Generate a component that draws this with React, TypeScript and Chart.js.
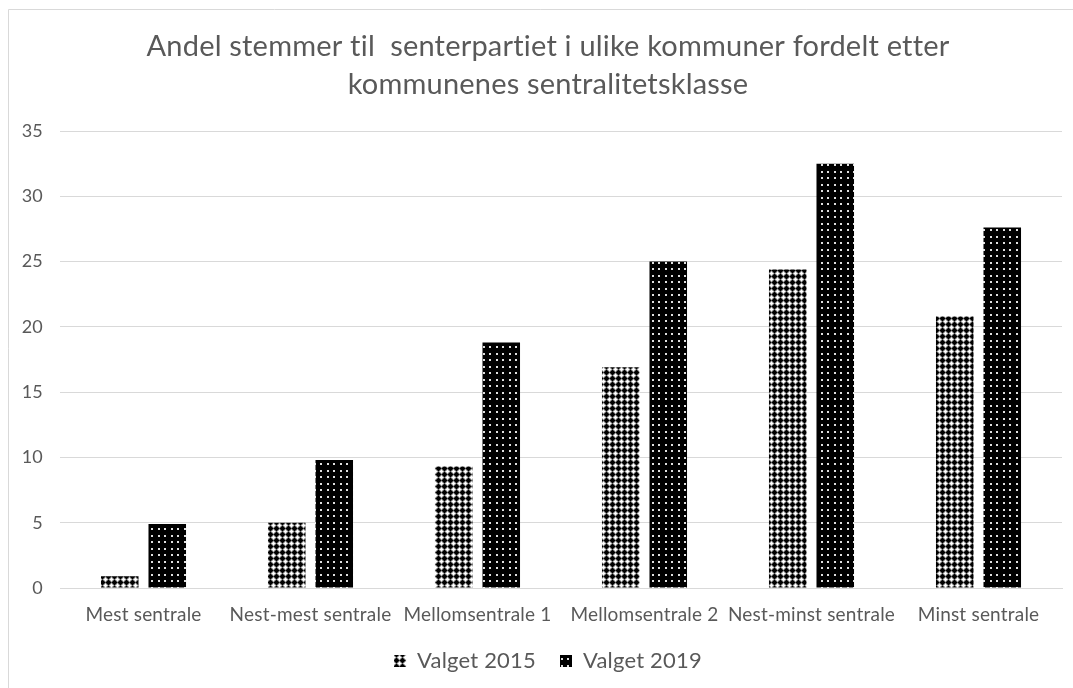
import React, { useEffect, useRef } from 'react';
import { Chart, registerables } from 'chart.js';

Chart.register(...registerables);

const TITLE_LINES = [
  'Andel stemmer til  senterpartiet i ulike kommuner fordelt etter',
  'kommunenes sentralitetsklasse',
];
const CATEGORIES = [
  'Mest sentrale',
  'Nest-mest sentrale',
  'Mellomsentrale 1',
  'Mellomsentrale 2',
  'Nest-minst sentrale',
  'Minst sentrale',
];
const SERIES_NAMES = ['Valget 2015', 'Valget 2019'];
const VALUES_2015 = [0.9, 5.0, 9.3, 16.9, 24.4, 20.8];
const VALUES_2019 = [4.9, 9.8, 18.8, 25.0, 32.5, 27.6];
const Y_MIN = 0;
const Y_MAX = 35;
const Y_STEP = 5;

const TEXT_COLOR = '#595959';
const GRID_COLOR = '#d9d9d9';
const FONT = 'Lato';

function makePattern2015(ctx: CanvasRenderingContext2D): CanvasPattern | string {
  const size = 6;
  const c = document.createElement('canvas');
  c.width = size;
  c.height = size;
  const g = c.getContext('2d');
  if (!g) return '#777';
  for (let y = 0; y < size; y++) {
    for (let x = 0; x < size; x++) {
      const d = Math.min(x, size - x) + Math.min(y, size - y);
      let col = '#ffffff';
      if (d <= 2) col = '#000000';
      else if (d === 3) col = '#555555';
      else if (d === 4) col = '#bbbbbb';
      g.fillStyle = col;
      g.fillRect(x, y, 1, 1);
    }
  }
  return ctx.createPattern(c, 'repeat') || '#777';
}

function makePattern2019(ctx: CanvasRenderingContext2D): CanvasPattern | string {
  const size = 13;
  const c = document.createElement('canvas');
  c.width = size;
  c.height = size;
  const g = c.getContext('2d');
  if (!g) return '#000';
  g.fillStyle = '#000000';
  g.fillRect(0, 0, size, size);
  g.fillStyle = '#e0e0e0';
  const pts = [
    [2, 2],
    [8, 2],
    [2, 8],
    [8, 8],
  ];
  for (const [px, py] of pts) g.fillRect(px, py, 2, 2);
  return ctx.createPattern(c, 'repeat') || '#000';
}

const CENTER_SHIFT = 34;

const framePlugin = {
  id: 'frame',
  beforeUpdate(chart: any) {
    (chart.ctx as any).letterSpacing = '0.2px';
  },
  afterLayout(chart: any) {
    if (chart.titleBlock) chart.titleBlock.left += CENTER_SHIFT;
    if (chart.legend) chart.legend.left += CENTER_SHIFT;
  },
  beforeDraw(chart: any) {
    const { ctx, width, height } = chart;
    (ctx as any).letterSpacing = '0.2px';
    ctx.save();
    ctx.fillStyle = '#ffffff';
    ctx.fillRect(0, 0, width, height);
    ctx.strokeStyle = GRID_COLOR;
    ctx.lineWidth = 1;
    ctx.beginPath();
    ctx.moveTo(8.5, height);
    ctx.lineTo(8.5, 9.5);
    ctx.lineTo(width, 9.5);
    ctx.stroke();
    ctx.restore();
  },
};

export default function App() {
  const ref = useRef<HTMLCanvasElement | null>(null);

  useEffect(() => {
    document.body.style.margin = '0';
    document.body.style.overflow = 'hidden';
    const canvas = ref.current;
    if (!canvas) return;
    const ctx = canvas.getContext('2d');
    if (!ctx) return;
    const p2015 = makePattern2015(ctx);
    const p2019 = makePattern2019(ctx);

    const chart = new Chart(canvas, {
      type: 'bar',
      data: {
        labels: CATEGORIES,
        datasets: [
          {
            label: SERIES_NAMES[0],
            data: VALUES_2015,
            backgroundColor: p2015 as any,
            borderWidth: 0,
            categoryPercentage: 0.569,
            barPercentage: 0.79,
          },
          {
            label: SERIES_NAMES[1],
            data: VALUES_2019,
            backgroundColor: p2019 as any,
            borderWidth: 0,
            categoryPercentage: 0.569,
            barPercentage: 0.79,
          },
        ],
      },
      options: {
        responsive: false,
        animation: false,
        layout: { padding: { left: 0, right: 11, top: 0, bottom: 6 } },
        plugins: {
          title: {
            display: true,
            text: TITLE_LINES,
            color: TEXT_COLOR,
            font: { family: FONT, size: 29, weight: 'normal', lineHeight: '38px' },
            padding: { top: 28, bottom: 27 },
          },
          legend: {
            display: true,
            position: 'bottom',
            labels: {
              color: TEXT_COLOR,
              font: { family: FONT, size: 22 },
              boxWidth: 12,
              boxHeight: 12,
              padding: 24,
            },
          },
          tooltip: { enabled: false },
        },
        scales: {
          x: {
            grid: { display: false, drawTicks: false },
            border: { display: true, color: GRID_COLOR },
            ticks: {
              color: TEXT_COLOR,
              font: { family: FONT, size: 19 },
              padding: 15,
              maxRotation: 0,
              autoSkip: false,
            },
            afterFit: (scale: any) => {
              scale.height = 38;
            },
          },
          y: {
            min: Y_MIN,
            max: Y_MAX,
            grid: { color: GRID_COLOR, drawTicks: false },
            border: { display: false },
            ticks: {
              stepSize: Y_STEP,
              color: TEXT_COLOR,
              font: { family: FONT, size: 18 },
              padding: 17,
            },
            afterFit: (scale: any) => {
              scale.width = 60;
            },
          },
        },
      },
      plugins: [framePlugin],
    });
    return () => chart.destroy();
  }, []);

  return (
    <canvas
      ref={ref}
      width={1073}
      height={688}
      style={{ display: 'block', width: 1073, height: 688 }}
    />
  );
}
